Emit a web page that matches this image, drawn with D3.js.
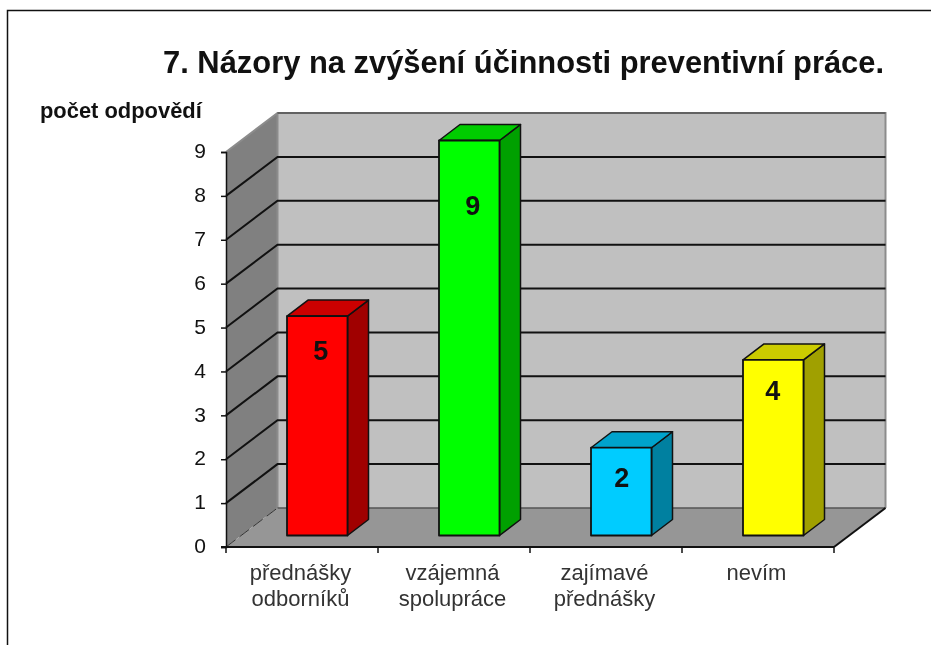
<!DOCTYPE html>
<html><head><meta charset="utf-8">
<script src="https://cdnjs.cloudflare.com/ajax/libs/d3/7.8.5/d3.min.js"></script>
<style>html,body{margin:0;padding:0;background:#fff}svg{display:block;filter:blur(0.35px)}text{font-family:"Liberation Sans",Arial,sans-serif;fill:#111}</style>
</head><body><svg id="c" width="931" height="645"></svg>
<script>
const categories=[["přednášky","odborníků"],["vzájemná","spolupráce"],["zajímavé","přednášky"],["nevím"]];
const values=[5,9,2,4];
const colors=["#ff0000","#00ff00","#00ccff","#ffff00"];
const sideColors=["#a00000","#00a000","#0080a0","#a0a000"];
const topColors=["#cc0000","#00cc00","#00a3cc","#cccc00"];
const yTicks=[0,1,2,3,4,5,6,7,8,9];
const titleText="7. Názory na zvýšení účinnosti preventivní práce.";
const yTitle="počet odpovědí";
const labelShiftX=[3.5,3.5,0.5,-0.5];
const labelShiftY=[44,74,39,40];

const svg=d3.select("#c");
const x=d3.scaleBand().domain(d3.range(categories.length)).range([226,834]).paddingInner(0).paddingOuter(0);
const y=d3.scaleLinear().domain([0,9]).range([547,152]);
const DX=51.5,DY=-39,dx=21,dy=-16,barOff=61,barW=60.5,barBase=-11.5;
const poly=(pts,fill,stroke,sw)=>svg.append("polygon").attr("points",pts.map(p=>p.join(",")).join(" ")).attr("fill",fill).attr("stroke",stroke||"none").attr("stroke-width",sw||0).attr("stroke-linejoin","round");

svg.append("path").attr("d","M931,10.5H7.5V645").attr("fill","none").attr("stroke","#111").attr("stroke-width",1.5);
svg.append("text").attr("x",163).attr("y",73).attr("font-size",30.9).attr("font-weight","bold").text(titleText);
svg.append("text").attr("x",40).attr("y",118).attr("font-size",21.9).attr("font-weight","bold").text(yTitle);

const xL=x.range()[0],xR=x.range()[1],y0=y(0),y9=y(9);
poly([[xL+DX,y9+DY],[xR+DX,y9+DY],[xR+DX,y0+DY],[xL+DX,y0+DY]],"#c0c0c0");
poly([[xL,y9],[xL+DX,y9+DY],[xL+DX,y0+DY],[xL,y0]],"#808080");
poly([[xL,y0],[xL+DX,y0+DY],[xR+DX,y0+DY],[xR,y0]],"#969696");

svg.append("path").attr("d",`M${xL},${y9}L${xL+DX},${y9+DY}H${xR+DX}V${y0+DY}`).attr("fill","none").attr("stroke","#8c8c8c").attr("stroke-width",2);
svg.append("line").attr("x1",xL+DX).attr("x2",xL+DX).attr("y1",y9+DY).attr("y2",y0+DY).attr("stroke","#8c8c8c").attr("stroke-width",2);

svg.selectAll("path.grid").data(yTicks.slice(1)).join("path").attr("class","grid")
  .attr("d",v=>`M${xL},${y(v)}L${xL+DX},${y(v)+DY}H${xR+DX}`).attr("fill","none")
  .attr("stroke","#111").attr("stroke-width",2).attr("opacity",v=>v===9?0:1);
svg.append("line").attr("x1",xL+DX).attr("x2",xR+DX).attr("y1",y9+DY).attr("y2",y9+DY).attr("stroke","#555").attr("stroke-width",1.5);
svg.append("line").attr("x1",xL).attr("y1",y0).attr("x2",xL+DX).attr("y2",y0+DY).attr("stroke","#333").attr("stroke-width",1).attr("stroke-dasharray","12 5");
svg.append("line").attr("x1",xL+DX).attr("x2",xR+DX).attr("y1",y0+DY).attr("y2",y0+DY).attr("stroke","#555").attr("stroke-width",1.5);
svg.append("line").attr("x1",xR).attr("y1",y0).attr("x2",xR+DX).attr("y2",y0+DY).attr("stroke","#111").attr("stroke-width",2);

values.forEach((v,i)=>{
  const l=x(i)+barOff,r=l+barW,b=y0+barBase,t=y(v)+barBase;
  poly([[r,t],[r+dx,t+dy],[r+dx,b+dy],[r,b]],sideColors[i],"#111",1.5);
  poly([[l,t],[l+dx,t+dy],[r+dx,t+dy],[r,t]],topColors[i],"#111",1.5);
  poly([[l,t],[r,t],[r,b],[l,b]],colors[i],"#111",1.8);
  svg.append("text").attr("x",(l+r)/2+labelShiftX[i]).attr("y",t+labelShiftY[i]).attr("text-anchor","middle").attr("font-size",27).attr("font-weight","bold").text(v);
});

const axY=svg.append("g").attr("transform",`translate(${xL},0)`).call(d3.axisLeft(y).tickValues(yTicks).tickSize(5).tickPadding(15));
axY.select(".domain").attr("stroke","#111").attr("stroke-width",1.5);
axY.selectAll("line").attr("stroke","#111").attr("stroke-width",1.5);
axY.selectAll("text").attr("font-size",21).attr("font-family","Liberation Sans").attr("fill","#111").attr("dy","0.27em");

const axX=svg.append("g").attr("transform",`translate(0,${y0})`);
axX.append("line").attr("x1",xL-5).attr("x2",xR).attr("stroke","#111").attr("stroke-width",2);
axX.selectAll("line.t").data(d3.range(categories.length+1)).join("line").attr("class","t")
  .attr("x1",i=>xL+i*x.bandwidth()).attr("x2",i=>xL+i*x.bandwidth()).attr("y1",0).attr("y2",6).attr("stroke","#111").attr("stroke-width",1.5);

categories.forEach((lines,i)=>{
  const t=svg.append("text").attr("text-anchor","middle").attr("font-size",22).style("fill","#333");
  lines.forEach((s,j)=>t.append("tspan").attr("x",x(i)+x.bandwidth()/2-1.5).attr("y",580+j*25.5).text(s));
});
</script></body></html>
